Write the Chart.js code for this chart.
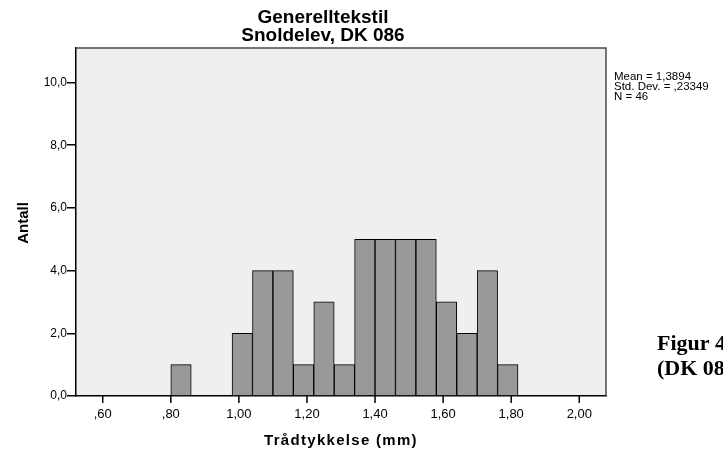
<!DOCTYPE html>
<html>
<head>
<meta charset="utf-8">
<title>Generelltekstil – Snoldelev, DK 086</title>
<script src="https://cdn.jsdelivr.net/npm/chart.js@4.4.1/dist/chart.umd.min.js"></script>
<style>
  html, body { margin:0; padding:0; background:#fff; }
  #wrap { width:723px; height:452px; overflow:hidden; }
</style>
</head>
<body>
<div id="wrap"><canvas id="hist" width="723" height="452"></canvas></div>
<script>
// ===== HISTOGRAM: TRÅDTYKKELSE =====

// bin lower edges (mm), bin width 0.06
const BIN_START = [0.80, 0.86, 0.92, 0.98, 1.04, 1.10, 1.16, 1.22, 1.28, 1.34, 1.40, 1.46, 1.52, 1.58, 1.64, 1.70, 1.76];
const COUNTS    = [1,    0,    0,    2,    4,    4,    1,    3,    1,    5,    5,    5,    5,    3,    2,    4,    1];
const BIN_WIDTH = 0.06;

const X_TICKS = [0.6, 0.8, 1.0, 1.2, 1.4, 1.6, 1.8, 2.0];
const Y_TICKS = [0, 2, 4, 6, 8, 10];

const TITLE_LINES = ['Generelltekstil', 'Snoldelev, DK 086'];
const X_TITLE = 'Trådtykkelse (mm)';
const Y_TITLE = 'Antall';
const STATS   = ['Mean = 1,3894', 'Std. Dev. = ,23349', 'N = 46'];
const CAPTION = ['Figur 4', '(DK 086)'];

const SANS = '"Liberation Sans", Arial, sans-serif';
const SERIF = '"Liberation Serif", "Times New Roman", serif';

// SPSS style number labels: 0.6 -> ",60", 1.2 -> "1,20"
function fmtX(v) {
  let s = v.toFixed(2).replace('.', ',');
  return s.startsWith('0') ? s.slice(1) : s;
}
function fmtY(v) { return v.toFixed(1).replace('.', ','); }

const frame = {
  id: 'frame',
  beforeDraw(chart) {
    const { ctx, chartArea: a } = chart;
    ctx.save();
    ctx.fillStyle = '#efefef';
    ctx.fillRect(a.left, a.top, a.right - a.left, a.bottom - a.top);
    ctx.restore();
  },
  afterDraw(chart) {
    const { ctx, chartArea: a, scales } = chart;
    ctx.save();
    // top + right edges of the plot box
    ctx.strokeStyle = '#4a4a4a';
    ctx.lineWidth = 1.5;
    ctx.beginPath();
    ctx.moveTo(a.left, a.top);
    ctx.lineTo(a.right, a.top);
    ctx.lineTo(a.right, a.bottom);
    ctx.stroke();

    // tick marks under the x axis
    ctx.strokeStyle = '#000';
    ctx.lineWidth = 1.5;
    X_TICKS.forEach(v => {
      const px = scales.x.getPixelForValue(v);
      ctx.beginPath();
      ctx.moveTo(px, a.bottom);
      ctx.lineTo(px, a.bottom + 7);
      ctx.stroke();
    });

    ctx.fillStyle = '#000';
    ctx.textAlign = 'center';
    ctx.textBaseline = 'alphabetic';

    // main title
    ctx.font = 'bold 19px ' + SANS;
    ctx.fillText(TITLE_LINES[0], 323, 23);
    ctx.fillText(TITLE_LINES[1], 323, 41);

    // x axis title
    ctx.font = 'bold 15px ' + SANS;
    ctx.letterSpacing = '1.3px';
    ctx.fillText(X_TITLE, (a.left + a.right) / 2, 445);
    ctx.letterSpacing = '0px';

    // y axis title
    ctx.save();
    ctx.translate(28, (a.top + a.bottom) / 2 + 1);
    ctx.rotate(-Math.PI / 2);
    ctx.fillText(Y_TITLE, 0, 0);
    ctx.restore();

    // stats box
    ctx.textAlign = 'left';
    ctx.font = '11.5px ' + SANS;
    STATS.forEach((t, i) => ctx.fillText(t, a.right + 8, 80 + i * 10));

    // caption (runs off the right edge)
    ctx.font = 'bold 22px ' + SERIF;
    ctx.fillText(CAPTION[0], 657, 350);
    ctx.fillText(CAPTION[1], 657, 375);
    ctx.restore();
  }
};

function drawHistogram() {
  const pts = BIN_START.map((s, i) => ({ x: s + BIN_WIDTH / 2, y: COUNTS[i] }));

  new Chart(document.getElementById('hist'), {
    type: 'bar',
    data: {
      datasets: [{
        data: pts,
        backgroundColor: '#999999',
        borderColor: '#000',
        borderWidth: 1,
        borderSkipped: 'bottom',
        barPercentage: 1,
        categoryPercentage: 1,
      }]
    },
    options: {
      responsive:false, animation:false,
      layout:{ padding:{ top:48, right:117, left:0, bottom:0 } },
      plugins:{ legend:{ display:false }, tooltip:{ enabled:false }, title:{ display:false } },
      scales:{
        x:{
          type:'linear', min:0.5215, max:2.0785, offset:false,
          afterBuildTicks: s => { s.ticks = X_TICKS.map(v => ({ value:v })); },
          afterFit: s => { s.height = 56; },
          ticks:{ color:'#000', font:{ family:SANS, size:13 }, padding:11, maxRotation:0, autoSkip:false, callback: v => fmtX(v) },
          grid:{ offset:false, drawOnChartArea:false, drawTicks:false, color:'#000' },
          border:{ display:true, color:'#000', width:1.5 }
        },
        y:{
          min:0, max:11.1,
          afterBuildTicks: s => { s.ticks = Y_TICKS.map(v => ({ value:v })); },
          afterFit: s => { s.width = 76; },
          ticks:{ color:'#000', font:{ family:SANS, size:12 }, padding:0, callback: v => fmtY(v) },
          grid:{ drawOnChartArea:false, drawTicks:true, tickLength:9, color:'#000', lineWidth:1.5 },
          border:{ display:true, color:'#000', width:1.5 }
        }
      }
    },
    plugins:[frame]
  });
}

window.addEventListener('DOMContentLoaded', drawHistogram);
</script>
</body>
</html>
